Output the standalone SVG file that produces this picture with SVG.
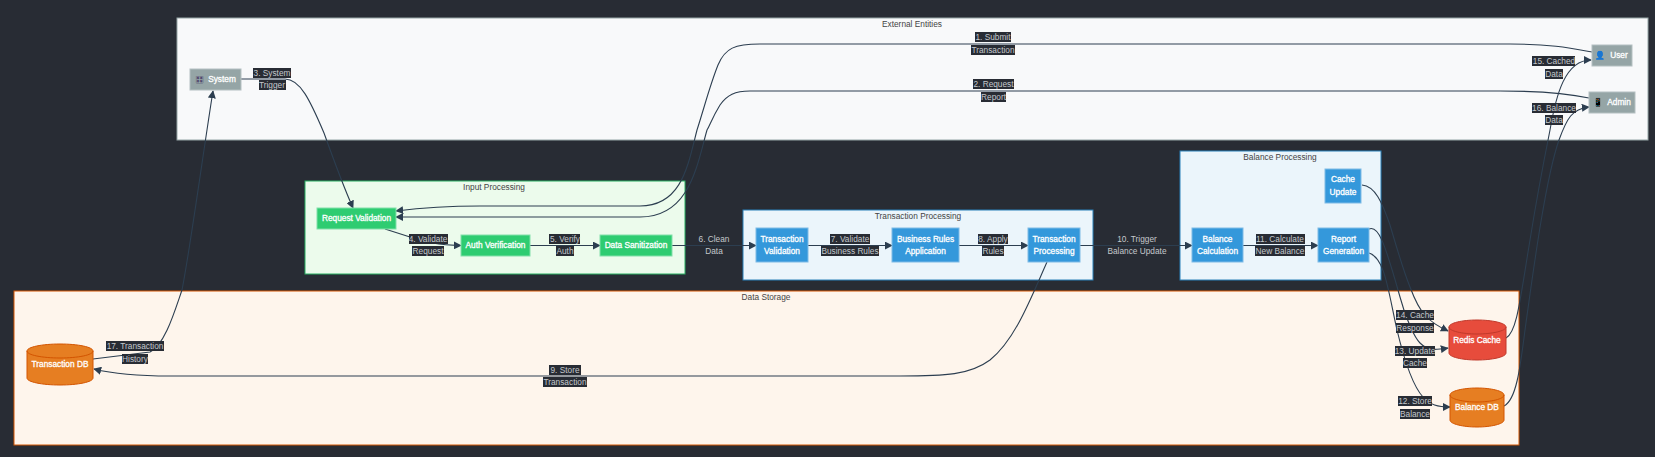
<svg xmlns="http://www.w3.org/2000/svg" width="1655" height="457" viewBox="0 0 1655 457">
<style>
.cl{fill:#444;font-size:8.3px;text-anchor:middle;font-family:"Liberation Sans",Arial,sans-serif}
.n{fill:#fff;stroke:#fff;stroke-width:.3;font-size:8.3px;text-anchor:middle;font-family:"Liberation Sans",Arial,sans-serif}
.e{fill:none;stroke:#2c3e50;stroke-width:1.1;marker-end:url(#a)}
.l{fill:#c4c8cc;font-size:8.3px;text-anchor:middle;font-family:"Liberation Sans",Arial,sans-serif}
.b{fill:#282c34}
.gr{fill:#95a5a6;stroke:#b4c0c1;stroke-width:1}
.g{fill:#2ecc71;stroke:#82e0aa;stroke-width:1}
.bl{fill:#3498db;stroke:#7fbbe6;stroke-width:1}
.or{fill:#e67e22;stroke:#d35400;stroke-width:1}
.rd{fill:#e74c3c;stroke:#c0392b;stroke-width:1}
</style>
<defs><marker id="a" viewBox="0 0 10 10" refX="9" refY="5" markerWidth="8" markerHeight="8" markerUnits="userSpaceOnUse" orient="auto"><path d="M0,0L10,5L0,10z" fill="#2c3e50"/></marker></defs>
<rect width="1655" height="457" fill="#282c34"/>
<g id="clusters">
<g id="external"><rect x="177" y="18" width="1471" height="122" fill="#f8f9fa" stroke="#95a5a6"/><text class="cl" x="912" y="27">External Entities</text></g>
<g id="input"><rect x="305" y="181" width="380" height="93" fill="#ecfbec" stroke="#27ae60"/><text class="cl" x="494" y="190">Input Processing</text></g>
<g id="transaction"><rect x="743" y="210" width="350" height="70" fill="#ebf5fb" stroke="#2980b9"/><text class="cl" x="918" y="219">Transaction Processing</text></g>
<g id="balance"><rect x="1180" y="151" width="201" height="129" fill="#ebf5fb" stroke="#2980b9"/><text class="cl" x="1280" y="160">Balance Processing</text></g>
<g id="storage"><rect x="14" y="291" width="1505" height="154" fill="#fef5ec" stroke="#d35400"/><text class="cl" x="766" y="300">Data Storage</text></g>
</g>
<g id="connectors">
<path class="e" d="M1592,52C1570,48 1550,44 1510,44L760,44C735,44 725,48 718,65C710,85 705,105 697,130C688,165 682,206 640,206L480,206C440,206 420,208 396,211"/>
<path class="e" d="M1589,98C1570,94 1545,91 1500,91L750,91C735,91 727,95 720,105C712,118 710,125 707,130C697,165 690,217 640,217L396,217"/>
<path class="e" d="M241,79L285,79C300,79 310,100 324,133C333,158 345,190 353,208"/>
<path class="e" d="M385,229L410,237C425,243 440,245 461,245.5"/>
<path class="e" d="M530,245.5L600,245.5"/>
<path class="e" d="M672,245.5L756,245.5"/>
<path class="e" d="M808,245.5L892,245.5"/>
<path class="e" d="M959,245.5L1028,245.5"/>
<path class="e" d="M1047,262C1030,300 1015,340 990,360C970,375 945,376 900,376L170,376C130,376 110,373 94,369"/>
<path class="e" d="M1080,245.5L1192,245.5"/>
<path class="e" d="M1243,245.5L1318,245.5"/>
<path class="e" d="M1369,253C1385,258 1388,290 1397,330C1403,355 1412,385 1423,397C1430,405 1438,407 1450,407"/>
<path class="e" d="M1369,229C1378,225 1384,240 1400,297C1406,320 1415,338 1420,343C1428,351 1435,350 1448,348"/>
<path class="e" d="M1362,185C1375,186 1382,202 1390,225C1396,245 1403,270 1410,287C1416,303 1420,310 1425,315C1432,323 1438,326 1448,331"/>
<path class="e" d="M1506,338C1517,332 1520,300 1530,240C1538,190 1545,155 1550,130C1556,95 1565,60 1591,60"/>
<path class="e" d="M1504,406C1516,400 1520,370 1525,330C1532,280 1545,180 1559,140C1567,118 1572,109 1589,107"/>
<path class="e" d="M93,359L150,352C165,345 175,310 182,290C190,250 205,140 213,91"/>
</g>
<g id="edge-labels">
<rect class="b" x="975" y="32" width="36" height="10"/><text class="l" x="993" y="40">1. Submit</text>
<rect class="b" x="971" y="45" width="44" height="10"/><text class="l" x="993" y="53">Transaction</text>
<rect class="b" x="973" y="79" width="41" height="10"/><text class="l" x="993.500" y="87">2. Request</text>
<rect class="b" x="981" y="92" width="25" height="10"/><text class="l" x="993.500" y="100">Report</text>
<rect class="b" x="253" y="68" width="38" height="10"/><text class="l" x="272" y="76">3. System</text>
<rect class="b" x="259" y="80" width="27" height="10"/><text class="l" x="272" y="88">Trigger</text>
<rect class="b" x="409" y="234" width="39" height="10"/><text class="l" x="428" y="242">4. Validate</text>
<rect class="b" x="412" y="246" width="32" height="10"/><text class="l" x="428" y="254">Request</text>
<rect class="b" x="549" y="234" width="31" height="10"/><text class="l" x="565" y="242">5. Verify</text>
<rect class="b" x="556" y="246" width="18" height="10"/><text class="l" x="565" y="254">Auth</text>
<text class="l" x="714" y="242">6. Clean</text><text class="l" x="714" y="254">Data</text>
<rect class="b" x="830" y="234" width="40" height="10"/><text class="l" x="850" y="242">7. Validate</text>
<rect class="b" x="821" y="246" width="58" height="10"/><text class="l" x="850" y="254">Business Rules</text>
<rect class="b" x="978" y="234" width="30" height="10"/><text class="l" x="993" y="242">8. Apply</text>
<rect class="b" x="982" y="246" width="22" height="10"/><text class="l" x="993" y="254">Rules</text>
<rect class="b" x="549" y="365" width="32" height="10"/><text class="l" x="565" y="373">9. Store</text>
<rect class="b" x="543" y="377" width="44" height="10"/><text class="l" x="565" y="385">Transaction</text>
<text class="l" x="1137" y="242">10. Trigger</text><text class="l" x="1137" y="254">Balance Update</text>
<rect class="b" x="1256" y="234" width="49" height="10"/><text class="l" x="1280" y="242">11. Calculate</text>
<rect class="b" x="1255" y="246" width="50" height="10"/><text class="l" x="1280" y="254">New Balance</text>
<rect class="b" x="1398" y="396" width="34" height="10"/><text class="l" x="1415" y="404">12. Store</text>
<rect class="b" x="1400" y="409" width="30" height="10"/><text class="l" x="1415" y="417">Balance</text>
<rect class="b" x="1395" y="346" width="40" height="10"/><text class="l" x="1415" y="354">13. Update</text>
<rect class="b" x="1403" y="358" width="24" height="10"/><text class="l" x="1415" y="366">Cache</text>
<rect class="b" x="1396" y="310" width="38" height="10"/><text class="l" x="1415" y="318">14. Cache</text>
<rect class="b" x="1396" y="323" width="38" height="10"/><text class="l" x="1415" y="331">Response</text>
<rect class="b" x="1532" y="56" width="43" height="10"/><text class="l" x="1554" y="64">15. Cached</text>
<rect class="b" x="1545" y="69" width="18" height="10"/><text class="l" x="1554" y="77">Data</text>
<rect class="b" x="1532" y="103" width="44" height="10"/><text class="l" x="1554" y="111">16. Balance</text>
<rect class="b" x="1545" y="115" width="18" height="10"/><text class="l" x="1554" y="123">Data</text>
<rect class="b" x="106" y="341" width="58" height="10"/><text class="l" x="135" y="349">17. Transaction</text>
<rect class="b" x="122" y="354" width="26" height="10"/><text class="l" x="135" y="362">History</text>
</g>
<g id="system"><rect class="gr" x="190" y="69" width="51" height="21"/><text class="n" y="82"><tspan x="200" fill="#3b2a5c" stroke="none" font-size="7">🎛 </tspan><tspan x="222">System</tspan></text></g>
<g id="user"><rect class="gr" x="1592" y="45" width="40" height="21"/><text class="n" y="58"><tspan x="1601" fill="#5b2c6f" stroke="#5b2c6f" font-size="8">👤 </tspan><tspan x="1619">User</tspan></text></g>
<g id="admin"><rect class="gr" x="1589" y="92" width="46" height="21"/><text class="n" y="105"><tspan x="1599" fill="#b8d0e8" stroke="none" font-size="8">📱 </tspan><tspan x="1619">Admin</tspan></text></g>
<g id="request-validation"><rect class="g" x="317" y="208" width="79" height="21"/><text class="n" x="356.500" y="221">Request Validation</text></g>
<g id="auth-verification"><rect class="g" x="461" y="235" width="69" height="21"/><text class="n" x="495.500" y="248">Auth Verification</text></g>
<g id="data-sanitization"><rect class="g" x="600" y="235" width="72" height="21"/><text class="n" x="636" y="248">Data Sanitization</text></g>
<g id="transaction-validation"><rect class="bl" x="756" y="228" width="52" height="34"/><text class="n" x="782" y="242">Transaction</text><text class="n" x="782" y="254">Validation</text></g>
<g id="business-rules"><rect class="bl" x="892" y="228" width="67" height="34"/><text class="n" x="925.500" y="242">Business Rules</text><text class="n" x="925.500" y="254">Application</text></g>
<g id="transaction-processing"><rect class="bl" x="1028" y="228" width="52" height="34"/><text class="n" x="1054" y="242">Transaction</text><text class="n" x="1054" y="254">Processing</text></g>
<g id="balance-calculation"><rect class="bl" x="1192" y="228" width="51" height="34"/><text class="n" x="1217.500" y="242">Balance</text><text class="n" x="1217.500" y="254">Calculation</text></g>
<g id="report-generation"><rect class="bl" x="1318" y="228" width="51" height="34"/><text class="n" x="1343.500" y="242">Report</text><text class="n" x="1343.500" y="254">Generation</text></g>
<g id="cache-update"><rect class="bl" x="1325" y="169" width="36" height="34"/><text class="n" x="1343" y="182">Cache</text><text class="n" x="1343" y="195">Update</text></g>
<g id="transaction-db"><path class="or" d="M27,351C27,347 42,344 60,344C78,344 93,347 93,351V378C93,382 78,385 60,385C42,385 27,382 27,378Z"/><path d="M27,351C27,355 42,358 60,358C78,358 93,355 93,351" fill="none" stroke="#d35400"/><text class="n" x="60" y="367">Transaction DB</text></g>
<g id="redis-cache"><path class="rd" d="M1449,327C1449,323 1462,320 1477,320C1492,320 1506,323 1506,327V353C1506,357 1492,360 1477,360C1462,360 1449,357 1449,353Z"/><path d="M1449,327C1449,331 1462,334 1477,334C1492,334 1506,331 1506,327" fill="none" stroke="#c0392b"/><text class="n" x="1477" y="343">Redis Cache</text></g>
<g id="balance-db"><path class="or" d="M1450,395C1450,391 1463,388 1477,388C1491,388 1504,391 1504,395V420C1504,424 1491,427 1477,427C1463,427 1450,424 1450,420Z"/><path d="M1450,395C1450,399 1463,402 1477,402C1491,402 1504,399 1504,395" fill="none" stroke="#d35400"/><text class="n" x="1477" y="410">Balance DB</text></g>
</svg>
